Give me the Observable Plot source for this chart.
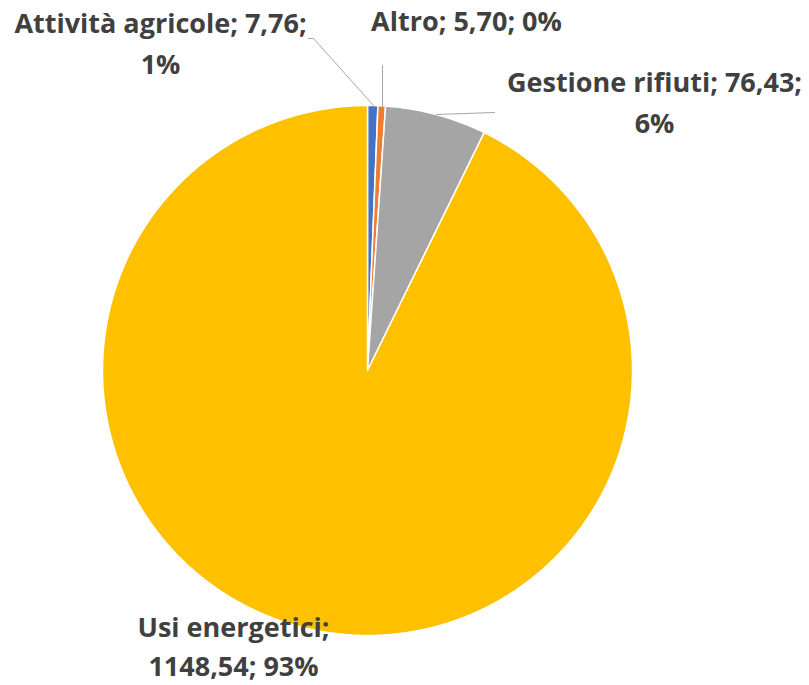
<!DOCTYPE html>
<html><head><meta charset="utf-8">
<script src="https://cdn.jsdelivr.net/npm/d3@7"></script>
<script src="https://cdn.jsdelivr.net/npm/@observablehq/plot@0.6"></script>
<style>body{margin:0;background:#fff}</style>
</head><body><div id="chart"></div>
<script>
const categories = ["Attività agricole", "Altro", "Gestione rifiuti", "Usi energetici"];
const values = [7.76, 5.70, 76.43, 1148.54];
const percents = ["1%", "0%", "6%", "93%"];
const valueLabels = ["7,76", "5,70", "76,43", "1148,54"];
const colors = ["#4472C4", "#ED7D31", "#A5A5A5", "#FFC000"];

const R = 265;
const pie = d3.pie().sort(null).value(d => d)(values);
const slices = [];
pie.forEach((p, i) => {
  const n = Math.max(2, Math.ceil((p.endAngle - p.startAngle) * 120));
  slices.push({name: categories[i], x: 0, y: 0});
  for (let k = 0; k <= n; k++) {
    const a = p.startAngle + (p.endAngle - p.startAngle) * k / n;
    slices.push({name: categories[i], x: R * Math.sin(a), y: -R * Math.cos(a)});
  }
});

// label layout (pixel offsets from pie centre)
const labels = [
  {i: 0, lines: [`${categories[0]}; ${valueLabels[0]};`, percents[0]], x: -207, y: -346},
  {i: 1, lines: [`${categories[1]}; ${valueLabels[1]}; ${percents[1]}`], x: 99, y: -348},
  {i: 2, lines: [`${categories[2]}; ${valueLabels[2]};`, percents[2]], x: 287, y: -287},
  {i: 3, lines: [`${categories[3]};`, `${valueLabels[3]}; ${percents[3]}`], x: -134, y: 258}
];
const textRows = [];
labels.forEach(l => l.lines.forEach((t, j) => textRows.push({t, x: l.x, y: l.y + j * (l.i === 3 ? 39 : 41)})));

const leaders = [
  {id: "a", x: -59, y: -332}, {id: "a", x: -54, y: -332}, {id: "a", x: 6, y: -265},
  {id: "b", x: 15, y: -305}, {id: "b", x: 15, y: -264},
  {id: "c", x: 127, y: -258}, {id: "c", x: 69, y: -256}
];

const chart = Plot.plot({
  width: 809, height: 685,
  margin: 0,
  x: {domain: [-367, 442], range: [0, 809], axis: null},
  y: {domain: [-370, 315], range: [0, 685], axis: null},
  color: {domain: categories, range: colors},
  style: {background: "white"},
  marks: [
    Plot.line(slices, {x: "x", y: "y", z: "name", fill: "name", stroke: "white", strokeWidth: 1.5, curve: "linear-closed"}),
    Plot.line(leaders, {x: "x", y: "y", z: "id", stroke: "#A6A6A6", strokeWidth: 1}),
    Plot.text(textRows, {x: "x", y: "y", text: "t", fill: "#404040", fontSize: 27, fontWeight: "bold", fontFamily: "'Open Sans', sans-serif", textAnchor: "middle"})
  ]
});
document.getElementById("chart").append(chart);
</script>
</body></html>
